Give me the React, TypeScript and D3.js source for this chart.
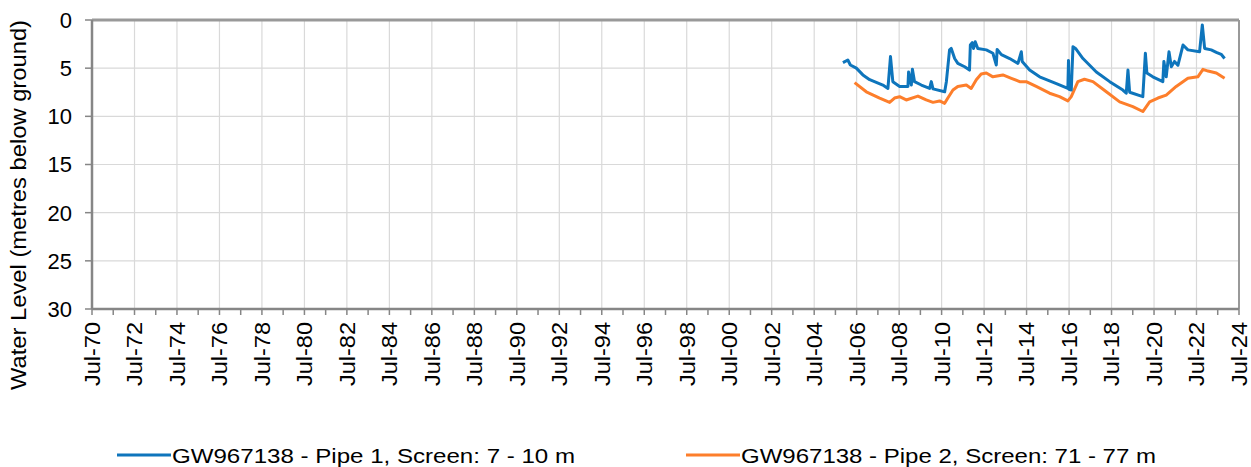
import React from "react";
import * as d3 from "d3";

// decimal years and water level (m below ground)
const pipe1Years = [
  2005.85, 2006.08, 2006.2, 2006.48, 2006.79, 2007.11, 2007.73, 2007.97, 2008.09, 2008.2,
  2008.52, 2008.91, 2008.94, 2009.07, 2009.12, 2009.22, 2009.54, 2009.93, 2010.01, 2010.09,
  2010.64, 2010.72, 2010.87, 2010.95, 2011.11, 2011.26, 2011.58, 2011.81, 2011.85, 2011.94,
  2012.0, 2012.08, 2012.2, 2012.6, 2012.91, 2013.07, 2013.11, 2013.31, 2013.7, 2014.09,
  2014.25, 2014.29, 2014.64, 2015.11, 2015.9, 2016.44, 2016.47, 2016.5, 2016.6, 2016.68,
  2016.8, 2017.15, 2017.78, 2018.41, 2019.03, 2019.19, 2019.27, 2019.35, 2019.97, 2020.09,
  2020.16, 2020.44, 2020.91, 2020.96, 2021.07, 2021.2, 2021.31, 2021.46, 2021.62, 2021.86,
  2022.09, 2022.64, 2022.77, 2022.88, 2023.19, 2023.43, 2023.66, 2023.82,
];
const pipe1Levels = [
  4.43, 4.15, 4.67, 5.0, 5.7, 6.2, 6.75, 7.1, 3.8, 6.4,
  6.9, 6.9, 5.4, 6.75, 5.1, 6.4, 6.75, 7.1, 6.4, 7.15,
  7.45, 6.4, 3.1, 2.95, 4.0, 4.5, 4.85, 5.2, 2.6, 2.35,
  2.95, 2.25, 2.95, 3.1, 3.45, 4.67, 3.05, 3.6, 4.0, 4.5,
  3.3, 4.3, 5.2, 5.9, 6.6, 7.1, 4.2, 7.2, 7.27, 2.77,
  2.95, 4.0, 5.4, 6.4, 7.27, 7.6, 5.2, 7.5, 7.96, 3.45,
  5.5, 5.9, 6.4, 4.3, 5.9, 3.3, 4.85, 4.3, 4.7, 2.6,
  3.1, 3.3, 0.52, 2.95, 3.1, 3.35, 3.56, 4.0,
];

const pipe2Years = [
  2006.4, 2006.95, 2007.58, 2008.05, 2008.28, 2008.52, 2008.83, 2009.38, 2009.77, 2010.09,
  2010.4, 2010.64, 2010.79, 2011.03, 2011.26, 2011.66, 2011.89, 2012.13, 2012.36, 2012.6,
  2012.91, 2013.38, 2013.78, 2014.17, 2014.48, 2014.95, 2015.58, 2016.05, 2016.44, 2016.6,
  2016.91, 2017.22, 2017.62, 2018.25, 2018.88, 2019.5, 2019.97, 2020.29, 2020.68, 2021.07,
  2021.54, 2022.09, 2022.56, 2022.8, 2023.04, 2023.43, 2023.82,
];
const pipe2Levels = [
  6.5, 7.45, 8.1, 8.55, 8.1, 7.96, 8.3, 7.9, 8.3, 8.55,
  8.4, 8.65, 8.1, 7.27, 6.9, 6.75, 7.1, 6.2, 5.6, 5.5,
  5.9, 5.7, 6.05, 6.4, 6.4, 6.9, 7.6, 7.96, 8.4, 7.96,
  6.4, 6.15, 6.4, 7.45, 8.5, 9.0, 9.5, 8.5, 8.1, 7.8,
  6.9, 6.05, 5.9, 5.12, 5.3, 5.5, 6.05,
];

const tickYears = d3.range(1970, 2025, 2);
const minorYears = d3.range(1970, 2025, 1);
const levelTicks = [0, 5, 10, 15, 20, 25, 30];

const seriesNames = [
  "GW967138 - Pipe 1, Screen: 7 - 10 m",
  "GW967138 - Pipe 2, Screen: 71 - 77 m",
];
const colors = ["#0E75BC", "#FD7E2B"];

const toDate = (y: number) => {
  const yr = Math.floor(y);
  const start = Date.UTC(yr, 0, 1);
  const end = Date.UTC(yr + 1, 0, 1);
  return new Date(start + (y - yr) * (end - start));
};

const W = 1251;
const H = 467;
const m = { left: 92, top: 20, right: 12, bottom: 158 };

const App = () => {
  const x = d3
    .scaleUtc()
    .domain([new Date(Date.UTC(1970, 6, 1)), new Date(Date.UTC(2024, 6, 1))])
    .range([m.left, W - m.right]);
  const y = d3.scaleLinear().domain([0, 30]).range([m.top, H - m.bottom]);

  const line = d3
    .line<[number, number]>()
    .x((d) => x(toDate(d[0])))
    .y((d) => y(d[1]));

  const s1 = pipe1Years.map((t, i) => [t, pipe1Levels[i]] as [number, number]);
  const s2 = pipe2Years.map((t, i) => [t, pipe2Levels[i]] as [number, number]);

  const x0 = m.left;
  const x1 = W - m.right;
  const y0 = m.top;
  const y1 = H - m.bottom;
  const font = "'Liberation Sans', Arial, sans-serif";

  return (
    <svg
      width={W}
      height={H}
      style={{ position: "absolute", left: 0, top: 0, background: "#fff" }}
      fontFamily={font}
    >
      {/* grid */}
      {levelTicks.map((t) => (
        <line key={"h" + t} x1={x0} x2={x1} y1={y(t)} y2={y(t)} stroke="#d9d9d9" strokeWidth={1.2} />
      ))}
      {tickYears.map((yr) => {
        const px = x(new Date(Date.UTC(yr, 6, 1)));
        return <line key={"v" + yr} x1={px} x2={px} y1={y0} y2={y1} stroke="#d9d9d9" strokeWidth={1.2} />;
      })}

      {/* plot border */}
      <line x1={x0} x2={x1} y1={y0} y2={y0} stroke="#999" strokeWidth={3} />
      <line x1={x1} x2={x1} y1={y0} y2={y1} stroke="#999" strokeWidth={2} />

      {/* series */}
      <path d={line(s2) || ""} fill="none" stroke={colors[1]} strokeWidth={3} strokeLinejoin="round" />
      <path d={line(s1) || ""} fill="none" stroke={colors[0]} strokeWidth={3} strokeLinejoin="round" />

      {/* y axis */}
      <line x1={x0} x2={x0} y1={y0} y2={y1} stroke="#868686" strokeWidth={2.5} />
      {levelTicks.map((t) => (
        <g key={"yt" + t}>
          <line x1={x0 - 7} x2={x0} y1={y(t)} y2={y(t)} stroke="#868686" strokeWidth={1.5} />
          <text x={72} y={y(t)} dy="0.36em" textAnchor="end" fontSize={22} fill="#000">
            {t}
          </text>
        </g>
      ))}
      <text
        transform={`translate(26,205) rotate(-90)`}
        textAnchor="middle"
        fontSize={22}
        textLength={370}
        lengthAdjust="spacingAndGlyphs"
        fill="#000"
      >
        Water Level (metres below ground)
      </text>

      {/* x axis */}
      <line x1={x0} x2={x1} y1={y1} y2={y1} stroke="#868686" strokeWidth={2.5} />
      {minorYears.map((yr) => {
        const px = x(new Date(Date.UTC(yr, 6, 1)));
        return <line key={"mt" + yr} x1={px} x2={px} y1={y1} y2={y1 + 6} stroke="#868686" strokeWidth={1.5} />;
      })}
      {tickYears.map((yr) => {
        const px = x(new Date(Date.UTC(yr, 6, 1)));
        return (
          <text
            key={"xt" + yr}
            transform={`translate(${px},${y1 + 13}) rotate(-90)`}
            dy="0.36em"
            textAnchor="end"
            fontSize={22}
            textLength={64}
            lengthAdjust="spacingAndGlyphs"
            fill="#000"
          >
            {"Jul-" + String(yr % 100).padStart(2, "0")}
          </text>
        );
      })}

      {/* legend */}
      {seriesNames.map((name, i) => {
        const lx = i === 0 ? 117 : 686;
        const tl = i === 0 ? 403 : 415;
        return (
          <g key={name}>
            <line x1={lx} x2={lx + 54} y1={455} y2={455} stroke={colors[i]} strokeWidth={3} />
            <text
              x={lx + 55}
              y={455}
              dy="0.36em"
              fontSize={21}
              textLength={tl}
              lengthAdjust="spacingAndGlyphs"
              fill="#000"
            >
              {name}
            </text>
          </g>
        );
      })}
    </svg>
  );
};

export default App;
